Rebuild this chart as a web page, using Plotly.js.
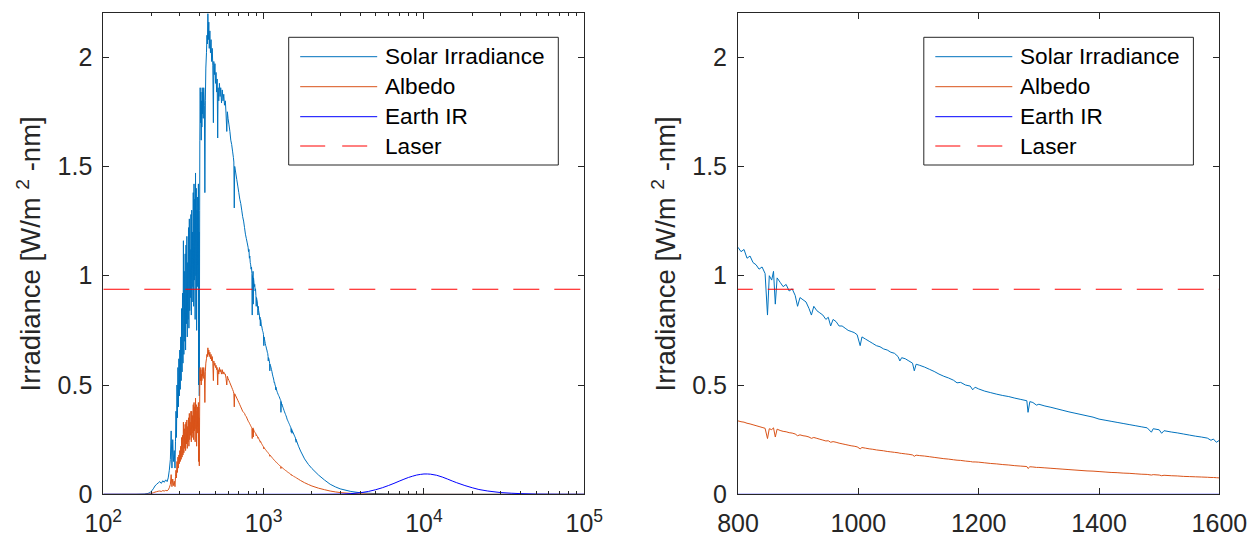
<!DOCTYPE html>
<html>
<head>
<meta charset="utf-8">
<script src="https://cdn.plot.ly/plotly-3.0.1.min.js"></script>
<style>html,body{margin:0;padding:0;background:#fff;}#chart{width:1256px;height:537px;}</style>
</head>
<body>
<div id="chart"></div>
<script>
// ---------------- DATA ----------------
const seriesNames = ['Solar Irradiance', 'Albedo', 'Earth IR', 'Laser'];

const wavelength = [
 100,130,160,180,190,196,200,205,210,215,220,225,230,235,240,245,250,254,258,262,265,268,271,274,277,280,
 282,284,286,288,290,292,294,296,298,300,302,304,306,308,310,312,314,316,318,320,322,324,326,328,330,332,334,336,338,340,
 342,344,346,348,350,352,354,356,358,360,362,364,366,368,370,372,374,376,378,380,382,384,386,388,390,392,393,395,397,399,
 400,402,404,406,408,410,412,414,416,418,420,423,427,430,433,436,440,443,446,449,452,455,458,462,466,470,474,478,482,486,489,
 493,497,501,505,509,513,517,520,525,530,535,540,546,552,558,564,570,577,583,589,594,600,608,616,624,632,640,648,652,656,660,
 670,680,690,700,710,720,730,740,750,760,770,780,790,
 800,805,810,815,820,825,830,835,840,845,849,852,856,859,862,865,870,875,880,885,890,895,899,903,908,913,918,922,926,931,936,
 941,946,950,954,958,963,968,973,978,983,988,993,998,1003,1006,1012,1018,1024,1030,1036,1042,1048,1054,1060,1066,1069,1072,
 1078,1084,1090,1093,1096,1102,1110,1118,1126,1134,1142,1150,1158,1164,1170,1178,1186,1190,1194,1200,1210,1220,1230,1240,
 1250,1260,1270,1280,1282,1285,1290,1296,1300,1310,1320,1330,1340,1350,1360,1370,1380,1390,1400,1410,1420,1430,1440,1450,
 1460,1470,1480,1487,1490,1500,1504,1508,1520,1530,1540,1550,1560,1570,1580,1586,1590,1595,1600,
 1650,1700,1800,1900,2000,2200,2400,2600,2800,3000,3500,4000,5000,6000,8000,10000,20000,100000
];

const solarIrradiance = [
 0,0,0,0.001,0.004,0.008,0.015,0.025,0.038,0.046,0.052,0.058,0.050,0.062,0.055,0.066,0.058,0.075,0.11,0.16,0.29,0.12,0.25,0.15,0.20,0.12,
 0.24,0.38,0.26,0.50,0.35,0.58,0.40,0.62,0.45,0.66,0.48,0.72,0.52,0.85,0.56,0.92,0.60,1.16,0.64,1.02,0.70,1.10,0.66,1.14,0.78,1.18,0.72,1.06,0.80,1.22,
 0.76,1.26,0.84,1.12,0.90,1.28,0.82,1.30,0.88,1.20,0.95,1.38,0.86,1.42,0.98,1.35,0.80,1.47,1.00,1.40,0.75,1.30,0.95,1.36,1.05,1.42,0.50,1.20,0.45,1.30,
 1.62,1.86,1.70,1.84,1.62,1.80,1.68,1.86,1.74,1.84,1.72,1.86,1.78,1.38,1.80,1.95,2.02,2.10,2.06,2.20,2.08,2.16,2.04,2.12,2.02,2.08,1.98,2.04,1.96,1.70,1.98,
 1.92,1.97,1.88,1.93,1.84,1.90,1.63,1.86,1.80,1.88,1.82,1.86,1.79,1.85,1.80,1.83,1.78,1.80,1.74,1.66,1.75,1.72,1.69,1.66,1.62,1.60,1.57,1.54,1.52,1.31,1.50,
 1.47,1.44,1.41,1.38,1.35,1.33,1.30,1.27,1.25,1.22,1.19,1.17,1.15,
 1.13,1.11,1.12,1.08,1.09,1.06,1.05,1.03,1.04,1.01,0.82,1.00,0.98,1.02,0.87,0.99,0.97,0.95,0.96,0.93,0.94,0.91,0.86,0.90,0.89,0.88,0.85,0.82,0.86,0.84,0.83,
 0.82,0.80,0.81,0.77,0.80,0.79,0.77,0.77,0.76,0.75,0.745,0.74,0.73,0.68,0.72,0.71,0.70,0.69,0.68,0.675,0.665,0.66,0.65,0.645,0.63,0.61,0.625,
 0.62,0.61,0.60,0.565,0.595,0.59,0.582,0.572,0.562,0.55,0.54,0.532,0.522,0.51,0.512,0.50,0.495,0.478,0.49,0.482,0.472,0.465,0.458,0.452,
 0.447,0.44,0.434,0.428,0.375,0.424,0.42,0.408,0.412,0.404,0.398,0.391,0.384,0.377,0.371,0.365,0.359,0.353,0.344,0.339,0.334,0.329,0.324,0.319,
 0.314,0.309,0.304,0.284,0.300,0.295,0.279,0.291,0.285,0.281,0.276,0.271,0.266,0.262,0.257,0.247,0.253,0.238,0.247,
 0.22,0.198,0.162,0.137,0.118,0.088,0.065,0.046,0.034,0.025,0.013,0.007,0.003,0.0015,0.0005,0.0002,0,0
];

const albedo = [
 0,0,0,0,0.001,0.002,0.004,0.007,0.010,0.012,0.014,0.015,0.013,0.017,0.015,0.018,0.016,0.020,0.030,0.045,0.090,0.035,0.070,0.040,0.060,0.035,
 0.080,0.110,0.075,0.150,0.100,0.170,0.120,0.180,0.140,0.200,0.150,0.220,0.160,0.260,0.170,0.270,0.180,0.330,0.190,0.300,0.210,0.320,0.200,0.330,0.230,0.340,0.210,0.310,0.240,0.350,
 0.220,0.370,0.250,0.330,0.270,0.380,0.240,0.380,0.260,0.360,0.280,0.410,0.250,0.420,0.290,0.400,0.240,0.440,0.300,0.410,0.220,0.380,0.280,0.400,0.310,0.420,0.150,0.350,0.130,0.400,
 0.55,0.58,0.52,0.57,0.50,0.55,0.52,0.58,0.54,0.57,0.53,0.58,0.55,0.42,0.56,0.60,0.62,0.64,0.63,0.67,0.64,0.66,0.63,0.65,0.62,0.64,0.61,0.63,0.60,0.52,0.61,
 0.59,0.60,0.58,0.59,0.57,0.58,0.50,0.57,0.55,0.58,0.56,0.57,0.55,0.57,0.55,0.56,0.55,0.55,0.53,0.50,0.54,0.53,0.52,0.51,0.50,0.49,0.48,0.47,0.46,0.40,0.46,
 0.45,0.44,0.43,0.42,0.41,0.40,0.39,0.38,0.375,0.37,0.36,0.355,0.345,
 0.336,0.332,0.330,0.325,0.322,0.318,0.314,0.310,0.306,0.302,0.255,0.300,0.296,0.304,0.262,0.298,0.292,0.288,0.286,0.282,0.280,0.276,0.268,0.272,0.268,0.266,0.262,0.256,0.260,0.256,0.252,
 0.248,0.244,0.245,0.238,0.241,0.238,0.234,0.231,0.228,0.225,0.222,0.220,0.217,0.208,0.214,0.211,0.208,0.206,0.203,0.201,0.199,0.196,0.194,0.192,0.190,0.188,0.187,
 0.185,0.183,0.180,0.174,0.179,0.177,0.175,0.172,0.169,0.166,0.163,0.161,0.158,0.156,0.155,0.152,0.150,0.148,0.148,0.147,0.144,0.141,0.139,0.136,
 0.134,0.131,0.129,0.127,0.118,0.126,0.125,0.123,0.123,0.121,0.119,0.117,0.115,0.113,0.111,0.109,0.107,0.106,0.104,0.102,0.100,0.099,0.097,0.096,
 0.094,0.092,0.091,0.088,0.090,0.088,0.085,0.087,0.085,0.084,0.082,0.081,0.080,0.079,0.078,0.077,0.077,0.076,0.075,
 0.069,0.063,0.053,0.045,0.038,0.028,0.021,0.015,0.011,0.008,0.004,0.002,0.001,0.0005,0.0002,0.0001,0,0
];

const irWavelength = [100,1000,2000,3000,3500,4000,4500,5000,5500,6000,6500,7000,7500,8000,8500,9000,9500,10000,10500,11000,12000,13000,14000,15000,16000,18000,20000,22000,25000,30000,35000,40000,50000,70000,100000];
const earthIR = [0,0,0,0.001,0.003,0.007,0.013,0.021,0.030,0.040,0.050,0.060,0.069,0.077,0.083,0.088,0.091,0.093,0.093,0.092,0.087,0.079,0.070,0.061,0.053,0.040,0.030,0.022,0.015,0.008,0.005,0.003,0.001,0.0002,0];

const laserWavelength = [100, 100000];
const laserIrradiance = [0.938, 0.938];

const yTickVals = [0, 0.5, 1, 1.5, 2];
const yTickText = ['0', '0.5', '1', '1.5', '2'];
const logTickVals = [100, 1000, 10000, 100000];
const logTickText = ['10<sup>2</sup>', '10<sup>3</sup>', '10<sup>4</sup>', '10<sup>5</sup>'];
const logMinorVals = [200,300,400,500,600,700,800,900,2000,3000,4000,5000,6000,7000,8000,9000,20000,30000,40000,50000,60000,70000,80000,90000];
const linTickVals = [800, 1000, 1200, 1400, 1600];
const linTickText = ['800', '1000', '1200', '1400', '1600'];

// ---------------- STYLE ----------------
const W = 1256, H = 537;
const colors = ['#0072BD', '#D95319', '#0000FF', '#FF0000'];
const axisColor = '#262626';
const fontFam = '"Liberation Sans", Arial, Helvetica, sans-serif';
const laserDash = '26px,15px';

function px2x(p) { return p / W; }
function px2y(p) { return 1 - p / H; }

const panels = [
  { xa: 'x', ya: 'y', left: 103.3, right: 584.3 },
  { xa: 'x2', ya: 'y2', left: 738.0, right: 1219.4 }
];

const traces = [];
panels.forEach(p => {
  traces.push({ x: wavelength, y: solarIrradiance, xaxis: p.xa, yaxis: p.ya, mode: 'lines', name: seriesNames[0], showlegend: false,
    line: { color: colors[0], width: 1, simplify: false }, hoverinfo: 'skip' });
  traces.push({ x: wavelength, y: albedo, xaxis: p.xa, yaxis: p.ya, mode: 'lines', name: seriesNames[1], showlegend: false,
    line: { color: colors[1], width: 1, simplify: false }, hoverinfo: 'skip' });
  traces.push({ x: irWavelength, y: earthIR, xaxis: p.xa, yaxis: p.ya, mode: 'lines', name: seriesNames[2], showlegend: false,
    line: { color: colors[2], width: 1, simplify: false }, hoverinfo: 'skip' });
  traces.push({ x: laserWavelength, y: laserIrradiance, xaxis: p.xa, yaxis: p.ya, mode: 'lines', name: seriesNames[3], showlegend: false,
    line: { color: colors[3], width: 1, dash: laserDash }, hoverinfo: 'skip' });
});

const yTop = 13.4, yBot = 494.3;
const commonAxis = {
  showline: true, linecolor: axisColor, linewidth: 1, mirror: 'ticks',
  ticks: 'inside', ticklen: 6, tickwidth: 1, tickcolor: axisColor,
  showgrid: false, zeroline: false, tickmode: 'array',
  tickfont: { family: fontFam, size: 25, color: axisColor }
};

const yTitle = { text: 'Irradiance [W/m <sup>2</sup> -nm]', font: { family: fontFam, size: 27.5, color: axisColor }, standoff: 8 };

const layout = {
  width: W, height: H,
  margin: { l: 0, r: 0, t: 0, b: 0 },
  paper_bgcolor: '#ffffff', plot_bgcolor: '#ffffff',
  showlegend: false,
  font: { family: fontFam, color: axisColor },
  xaxis: Object.assign({}, commonAxis, {
    type: 'log', range: [2, 5], domain: [px2x(panels[0].left), px2x(panels[0].right)], anchor: 'y',
    tickvals: logTickVals, ticktext: logTickText, ticklabelstandoff: 7,
    minor: { tickmode: 'array', tickvals: logMinorVals, ticks: 'inside', ticklen: 3, tickwidth: 1, tickcolor: axisColor, showgrid: false }
  }),
  yaxis: Object.assign({}, commonAxis, {
    range: [0, 2.2], domain: [px2y(yBot), px2y(yTop)], anchor: 'x',
    tickvals: yTickVals, ticktext: yTickText, ticklabelstandoff: 5, title: yTitle
  }),
  xaxis2: Object.assign({}, commonAxis, {
    type: 'linear', range: [800, 1600], domain: [px2x(panels[1].left), px2x(panels[1].right)], anchor: 'y2',
    tickvals: linTickVals, ticktext: linTickText, ticklabelstandoff: 7
  }),
  yaxis2: Object.assign({}, commonAxis, {
    range: [0, 2.2], domain: [px2y(yBot), px2y(yTop)], anchor: 'x2',
    tickvals: yTickVals, ticktext: yTickText, ticklabelstandoff: 5, title: yTitle
  }),
  shapes: [],
  annotations: []
};

// ---------------- LEGENDS (custom, matching MATLAB look) ----------------
const legendRows = [56.7, 86.7, 116.7, 146.0];
function addLegend(boxRight) {
  const boxLeft = boxRight - 269.6, boxTop = 37.3, boxBottom = 165.0;
  layout.shapes.push({ type: 'rect', xref: 'paper', yref: 'paper',
    x0: px2x(boxLeft), x1: px2x(boxRight), y0: px2y(boxBottom), y1: px2y(boxTop),
    line: { color: axisColor, width: 1 }, fillcolor: '#ffffff', layer: 'above' });
  seriesNames.forEach((name, i) => {
    layout.shapes.push({ type: 'line', xref: 'paper', yref: 'paper',
      x0: px2x(boxLeft + 11.5), x1: px2x(boxLeft + 88.5), y0: px2y(legendRows[i]), y1: px2y(legendRows[i]),
      line: { color: colors[i], width: 1, dash: i === 3 ? '25px,17px' : 'solid' }, layer: 'above' });
    layout.annotations.push({ xref: 'paper', yref: 'paper', x: px2x(boxLeft + 94.5), y: px2y(legendRows[i]),
      xanchor: 'left', yanchor: 'middle', showarrow: false, text: name,
      font: { family: fontFam, size: 22.6, color: '#000000' } });
  });
}
addLegend(558.3);
addLegend(1193.4);

Plotly.newPlot('chart', traces, layout, { staticPlot: true, displayModeBar: false });
</script>
</body>
</html>
